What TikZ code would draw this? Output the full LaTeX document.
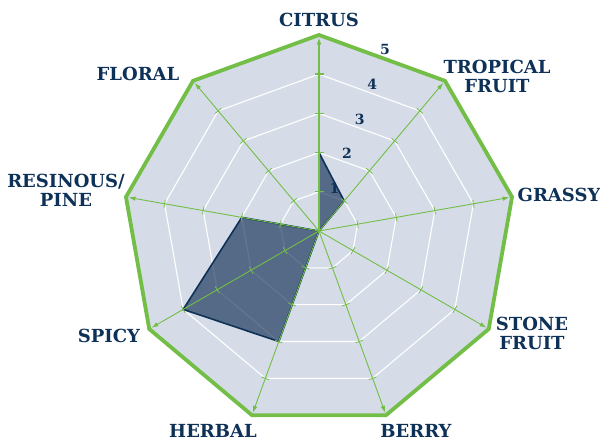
\documentclass[tikz,border=0pt]{standalone}
\usepackage{fontspec}
\setmainfont{DejaVu Serif}
\usetikzlibrary{arrows.meta,calc}
\definecolor{gbg}{HTML}{D6DCE7}
\definecolor{grn}{HTML}{72BE46}
\definecolor{navy}{HTML}{0E3158}
\definecolor{fillnavy}{HTML}{0D2B52}
\tikzset{
  lbl/.style={text=navy, inner sep=0pt, align=center, font=\fontsize{18}{19}\selectfont\bfseries},
  num/.style={text=navy, inner sep=0pt, font=\fontsize{14}{14}\selectfont\bfseries},
  gridline/.style={white, line width=1.1pt},
  axisline/.style={grn, line width=0.9pt, -{Latex[length=7pt,width=4.5pt]}},
  tickline/.style={grn, line width=0.8pt},
  outerline/.style={grn, line width=3.8pt, line join=miter},
  datapoly/.style={fill=fillnavy, fill opacity=0.64, draw=navy, draw opacity=1, line width=1.6pt, line join=miter}
}
\begin{document}
\begin{tikzpicture}[x=1pt,y=1pt]
\useasboundingbox (0,0) rectangle (600,441);
\fill[white] (0,0) rectangle (600,441);
\begin{scope}[shift={(319,210)}]
  \coordinate (C) at (0,0);
  \foreach \i in {0,...,8} {
    \coordinate (v\i) at ({90-40*\i}:196);
    \coordinate (a\i) at ({90-40*\i}:193.5);
  }
  % background
  \fill[gbg] (v0) \foreach \i in {1,...,8} { -- (v\i) } -- cycle;
  % grid
  \foreach \k in {1,...,4} {
    \draw[gridline] (90:{\k*39.2}) \foreach \i in {1,...,8} { -- ({90-40*\i}:{\k*39.2}) } -- cycle;
  }
  % data
  \coordinate (d0) at (90:78.4);
  \coordinate (d1) at (50:39.2);
  \coordinate (d5) at (-110:117.6);
  \coordinate (d6) at (-150:156.8);
  \coordinate (d7) at (170:78.4);
  \path[datapoly] (d0) -- (d1) -- (C) -- (d5) -- (d6) -- (d7) -- (C) -- cycle;
  % axes
  \foreach \i in {1,...,8} {
    \draw[axisline] (C) -- (a\i);
    \foreach \k in {1,...,4} {
      \draw[tickline] ($({90-40*\i}:{\k*39.2})+({180-40*\i}:4)$) -- ($({90-40*\i}:{\k*39.2})+({-40*\i}:4)$);
    }
  }
  \draw[axisline, line width=1.8pt, -{Latex[length=7pt,width=5pt]}] (C) -- (a0);
  \foreach \k in {1,...,4} {
    \draw[tickline, line width=1.4pt] ($(90:{\k*39.2})+(180:4.5)$) -- ($(90:{\k*39.2})+(0:4.5)$);
  }
  % outer
  \draw[outerline] (v0) \foreach \i in {1,...,8} { -- (v\i) } -- cycle;
  % numbers
  \foreach \k in {1,...,5} {
    \node[num] (n\k) at (70:{\k*39.2*0.9397+8.5}) {\k};
  }
\end{scope}
% labels
\node[lbl] (citrus) at (319,421) {CITRUS};
\node[lbl] (tropical) at (497,364.5) {TROPICAL\\FRUIT};
\node[lbl] (grassy) at (559,246) {GRASSY};
\node[lbl] (stone) at (532,108) {STONE\\FRUIT};
\node[lbl] (berry) at (416,10.5) {BERRY};
\node[lbl] (herbal) at (213,10.5) {HERBAL};
\node[lbl] (spicy) at (109,105.5) {SPICY};
\node[lbl] (resinous) at (66,250.5) {RESINOUS/\\PINE};
\node[lbl] (floral) at (138,367) {FLORAL};
\end{tikzpicture}
\end{document}
